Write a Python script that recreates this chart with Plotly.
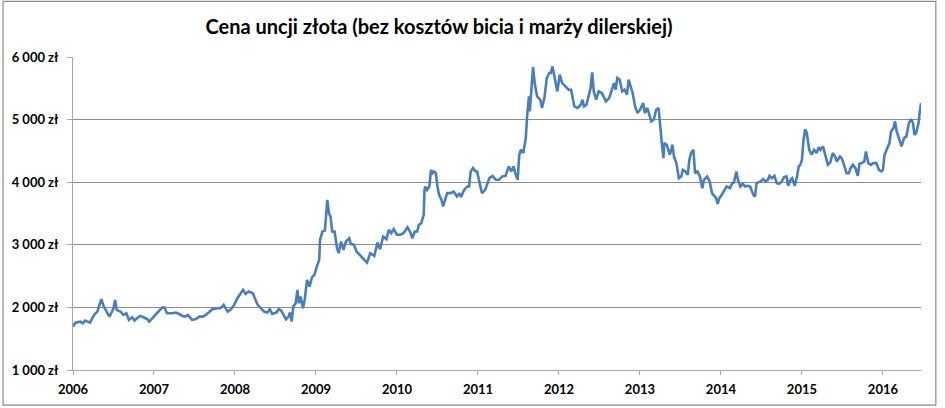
import plotly.graph_objects as go

# Gold price per ounce in PLN (x = decimal year)
years = [
    2006.00, 2006.03, 2006.09, 2006.12, 2006.15, 2006.21, 2006.26, 2006.30, 2006.32, 2006.35,
    2006.38, 2006.42, 2006.45, 2006.48, 2006.50, 2006.52, 2006.54, 2006.59, 2006.62, 2006.66,
    2006.69, 2006.73, 2006.76, 2006.79, 2006.83, 2006.87, 2006.92, 2006.94, 2006.98,
    2007.02, 2007.06, 2007.10, 2007.13, 2007.16, 2007.23, 2007.27, 2007.31, 2007.35, 2007.39,
    2007.42, 2007.47, 2007.51, 2007.56, 2007.60, 2007.64, 2007.68, 2007.72, 2007.78, 2007.82,
    2007.86, 2007.89, 2007.91, 2007.95, 2007.99,
    2008.03, 2008.07, 2008.10, 2008.13, 2008.17, 2008.22, 2008.25, 2008.28, 2008.32, 2008.36,
    2008.40, 2008.43, 2008.46, 2008.51, 2008.54, 2008.57, 2008.60, 2008.63, 2008.66, 2008.68,
    2008.70, 2008.72, 2008.75, 2008.77, 2008.79, 2008.81, 2008.84, 2008.86, 2008.89, 2008.92,
    2008.95, 2008.98,
    2009.01, 2009.04, 2009.05, 2009.08, 2009.11, 2009.14, 2009.16, 2009.18, 2009.20, 2009.23,
    2009.26, 2009.28, 2009.31, 2009.34, 2009.37, 2009.41, 2009.43, 2009.47, 2009.50, 2009.54,
    2009.58, 2009.63, 2009.67, 2009.72, 2009.76, 2009.79, 2009.83, 2009.87, 2009.90, 2009.93,
    2009.96,
    2010.00, 2010.04, 2010.08, 2010.13, 2010.16, 2010.19, 2010.22, 2010.25, 2010.27, 2010.30,
    2010.33, 2010.34, 2010.35, 2010.37, 2010.40, 2010.42, 2010.44, 2010.46, 2010.48, 2010.50,
    2010.52, 2010.55, 2010.57, 2010.60, 2010.62, 2010.66, 2010.70, 2010.74, 2010.77, 2010.79,
    2010.83, 2010.87, 2010.89, 2010.91, 2010.94, 2010.97, 2010.99,
    2011.02, 2011.05, 2011.09, 2011.14, 2011.18, 2011.22, 2011.26, 2011.30, 2011.34, 2011.38,
    2011.41, 2011.44, 2011.46, 2011.49, 2011.51, 2011.53, 2011.56, 2011.59, 2011.61, 2011.63,
    2011.64, 2011.66, 2011.68, 2011.70, 2011.73, 2011.77, 2011.79, 2011.82, 2011.85, 2011.88,
    2011.90, 2011.92, 2011.95, 2011.98,
    2012.01, 2012.04, 2012.08, 2012.12, 2012.15, 2012.19, 2012.23, 2012.27, 2012.29, 2012.31,
    2012.34, 2012.37, 2012.39, 2012.41, 2012.43, 2012.46, 2012.49, 2012.53, 2012.58, 2012.62,
    2012.65, 2012.68, 2012.70, 2012.72, 2012.75, 2012.78, 2012.81, 2012.84, 2012.86, 2012.88,
    2012.91, 2012.94, 2012.97,
    2013.00, 2013.04, 2013.06, 2013.09, 2013.11, 2013.14, 2013.17, 2013.20, 2013.23, 2013.25,
    2013.27, 2013.29, 2013.30, 2013.33, 2013.37, 2013.40, 2013.42, 2013.45, 2013.48, 2013.51,
    2013.53, 2013.56, 2013.59, 2013.61, 2013.63, 2013.66, 2013.68, 2013.71, 2013.74, 2013.77,
    2013.79, 2013.83, 2013.86, 2013.89, 2013.92, 2013.94, 2013.96, 2013.98,
    2014.01, 2014.04, 2014.07, 2014.11, 2014.14, 2014.16, 2014.19, 2014.21, 2014.24, 2014.27,
    2014.30, 2014.33, 2014.36, 2014.40, 2014.42, 2014.44, 2014.49, 2014.52, 2014.55, 2014.58,
    2014.60, 2014.63, 2014.66, 2014.69, 2014.72, 2014.75, 2014.78, 2014.81, 2014.83, 2014.86,
    2014.88, 2014.91, 2014.94, 2014.96, 2014.98,
    2015.00, 2015.02, 2015.04, 2015.06, 2015.09, 2015.12, 2015.15, 2015.18, 2015.21, 2015.23,
    2015.26, 2015.29, 2015.32, 2015.35, 2015.38, 2015.41, 2015.43, 2015.47, 2015.49, 2015.52,
    2015.55, 2015.58, 2015.60, 2015.63, 2015.66, 2015.69, 2015.71, 2015.74, 2015.77, 2015.79,
    2015.82, 2015.85, 2015.88, 2015.92, 2015.95, 2015.98,
    2016.00, 2016.02, 2016.05, 2016.08, 2016.10, 2016.13, 2016.15, 2016.17, 2016.19, 2016.21,
    2016.23, 2016.26, 2016.29, 2016.32, 2016.35, 2016.37, 2016.39, 2016.41, 2016.44, 2016.45,
    2016.47,
]

price_pln = [
    1693, 1757, 1773, 1745, 1790, 1757, 1880, 1933, 2013, 2130,
    2013, 1930, 1853, 1930, 1986, 2120, 1960, 1930, 1880, 1906,
    1800, 1842, 1790, 1826, 1864, 1842, 1810, 1773, 1826,
    1874, 1933, 1997, 1997, 1906, 1906, 1917, 1895, 1864, 1853,
    1880, 1800, 1810, 1853, 1853, 1880, 1933, 1970, 1986, 1986,
    2040, 1986, 1933, 1970, 2040,
    2146, 2226, 2280, 2215, 2253, 2226, 2146, 2040, 1986, 1933,
    1917, 1970, 1895, 1917, 1970, 1949, 1880, 1810, 1853, 1917,
    1773, 2013, 2066, 2280, 2066, 2173, 1986, 2120, 2440, 2333,
    2480, 2520,
    2650, 2760, 3080, 3212, 3228, 3718, 3505, 3450, 3212, 3212,
    2946, 2866, 3052, 2919, 3052, 3105, 3015, 3000, 2893, 2840,
    2770, 2716, 2866, 2823, 3036, 2930, 3132, 3090, 3240, 3185,
    3250,
    3160, 3160, 3185, 3281, 3212, 3105, 3212, 3212, 3318, 3345,
    3478, 3878, 3932, 3878, 3932, 4198, 4145, 4170, 4145, 3932,
    3799, 3718, 3612, 3745, 3825, 3825, 3850, 3772, 3825, 3762,
    3878, 3932, 3932, 4170, 4225, 4170, 4170,
    3985, 3825, 3878, 4065, 4100, 4038, 4038, 4092, 4100, 4252,
    4170, 4252, 4145, 4038, 4438, 4518, 4465, 4705, 5105, 5370,
    5132, 5423, 5838, 5584, 5370, 5317, 5185, 5345, 5664, 5744,
    5744, 5850, 5637, 5450,
    5717, 5584, 5530, 5477, 5477, 5211, 5185, 5237, 5317, 5211,
    5237, 5424, 5504, 5754, 5450, 5317, 5450, 5424, 5291, 5344,
    5477, 5584, 5477, 5664, 5637, 5450, 5477, 5397, 5637, 5557,
    5424, 5211, 5104,
    5157, 5264, 5104, 5185, 5104, 4971, 4998, 5157, 5185, 4838,
    4624, 4385, 4624, 4598, 4438, 4598, 4411, 4305, 4065, 4092,
    4198, 4172, 4118, 4358, 4465, 4518, 4145, 4172, 4092, 3905,
    4038, 4092, 4012, 3825, 3772, 3745, 3655, 3745,
    3798, 3878, 3932, 3905, 3985, 3996, 4172, 4038, 3932, 3974,
    3932, 3942, 3932, 3798, 3772, 3985, 4012, 4049, 4012, 4038,
    4102, 4065, 4102, 3985, 3974, 4012, 4081, 4092, 3942, 4038,
    4065, 3942, 4092, 4252, 4278,
    4358, 4678, 4848, 4784, 4518, 4438, 4518, 4465, 4561, 4518,
    4572, 4411, 4278, 4316, 4465, 4411, 4331, 4411, 4385, 4278,
    4145, 4145, 4225, 4278, 4225, 4102, 4294, 4305, 4331, 4491,
    4305, 4278, 4305, 4305, 4198, 4172,
    4198, 4438, 4545, 4625, 4811, 4864, 4971, 4811, 4731, 4651,
    4572, 4705, 4731, 4944, 5008, 4944, 4758, 4784, 4944, 5078,
    5264,
]

year_ticks = list(range(2006, 2017))
price_ticks = [1000, 2000, 3000, 4000, 5000, 6000]

FONT = "Lato, 'Open Sans', sans-serif"

fig = go.Figure()
fig.add_trace(go.Scatter(
    x=years, y=price_pln, mode="lines",
    line=dict(color="#4A7EBB", width=2.6),
    hoverinfo="skip", showlegend=False,
))

fig.update_layout(
    width=945, height=408,
    margin=dict(l=73, r=24, t=57, b=38),
    paper_bgcolor="white", plot_bgcolor="white",
    title=dict(
        text="<b>Cena uncji złota (bez kosztów bicia i marży dilerskiej)</b>",
        x=0.4646, xanchor="center", y=0.935, yanchor="middle",
        font=dict(family=FONT, size=20, color="black"),
    ),
    xaxis=dict(
        range=[2006, 2016.47], tickvals=year_ticks,
        ticktext=[f"<b>{y}</b>" for y in year_ticks],
        showgrid=False, zeroline=False,
        showline=True, linecolor="#A6A6A6", linewidth=1,
        ticks="outside", ticklen=4, tickcolor="#A6A6A6",
        ticklabelstandoff=3,
        tickfont=dict(family=FONT, size=13, color="black"),
    ),
    yaxis=dict(
        range=[1000, 6000], tickvals=price_ticks,
        ticktext=[f"<b>{p:,} zł</b>".replace(",", " ") for p in price_ticks],
        showgrid=True, gridcolor="#8C8C8C", gridwidth=1, zeroline=False,
        showline=True, linecolor="#A6A6A6", linewidth=1,
        ticks="outside", ticklen=5, tickcolor="#A6A6A6",
        ticklabelstandoff=6,
        tickfont=dict(family=FONT, size=13, color="black"),
    ),
)

# outer frame of the chart area
fig.add_shape(type="rect", xref="paper", yref="paper",
              x0=-0.0825, x1=1.0175, y0=-0.112, y1=1.178,
              line=dict(color="#8C8C8C", width=1.2), layer="above")

# drop the default page margin so the figure sits at the top-left corner
fig.write_html("out.html", config={"displayModeBar": False},
               post_script="document.body.style.margin='0';")
